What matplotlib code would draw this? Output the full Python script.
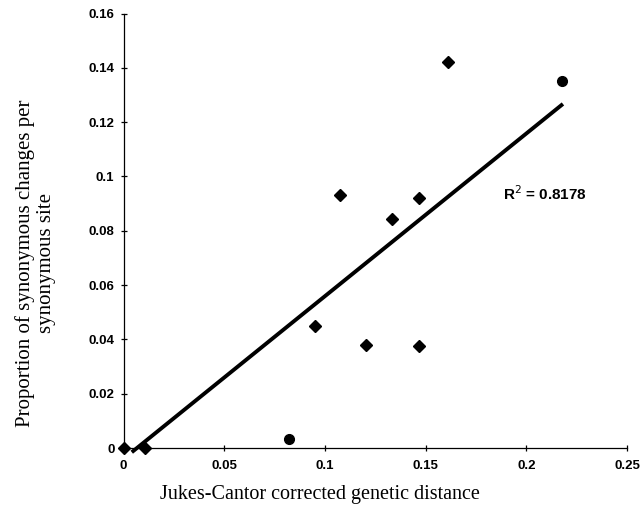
import numpy as np
from matplotlib import pyplot as plt

# points
diamond_x = [0.0, 0.0107, 0.0951, 0.1075, 0.1204, 0.1333, 0.1467, 0.1467, 0.1611]
diamond_y = [0.0, 0.0, 0.0449, 0.0932, 0.0379, 0.0843, 0.0920, 0.0375, 0.1421]
circle_x = [0.0822, 0.2177]
circle_y = [0.0033, 0.1351]

# trend line as drawn
fit_slope = 0.599
fit_intercept = -0.0040
fit_range = [0.0041, 0.2182]
r2_text = "R$^2$ = 0.8178"

x_ticks = [0, 0.05, 0.1, 0.15, 0.2, 0.25]
x_labels = ["0", "0.05", "0.1", "0.15", "0.2", "0.25"]
y_ticks = [0, 0.02, 0.04, 0.06, 0.08, 0.1, 0.12, 0.14, 0.16]
y_labels = ["0", "0.02", "0.04", "0.06", "0.08", "0.1", "0.12", "0.14", "0.16"]

plt.rcParams['font.family'] = ['Liberation Sans', 'DejaVu Sans']

fig = plt.figure(figsize=(6.42, 5.08), dpi=100)
ax = fig.add_axes([0.1924, 0.1181, 0.7842, 0.8553])

fx = np.array(fit_range)
ax.plot(fx, fit_slope * fx + fit_intercept, color="black", lw=2.8,
        solid_capstyle="butt", clip_on=False, zorder=2)

ax.plot(diamond_x, diamond_y, "D", color="black", markersize=6.5,
        clip_on=False, zorder=3)
ax.plot(circle_x, circle_y, "o", color="black", markersize=7,
        clip_on=False, zorder=3)

ax.text(0.1884, 0.0935, r2_text, fontsize=11, fontweight="bold",
        va="center", ha="left")

ax.set_xlim(0, 0.25)
ax.set_ylim(0, 0.16)
ax.set_xticks(x_ticks)
ax.set_xticklabels(x_labels)
ax.set_yticks(y_ticks)
ax.set_yticklabels(y_labels)

for side in ["top", "right"]:
    ax.spines[side].set_visible(False)
for side in ["left", "bottom"]:
    ax.spines[side].set_linewidth(0.9)

ax.tick_params(axis="both", direction="inout", length=5, width=0.9,
               labelsize=9.5)
ax.tick_params(axis="x", pad=6)
ax.tick_params(axis="y", pad=4)
for lab in ax.get_xticklabels() + ax.get_yticklabels():
    lab.set_fontweight("bold")

ax.set_xlabel("Jukes-Cantor corrected genetic distance",
              family="Liberation Serif", fontsize=14.5)
ax.xaxis.set_label_coords(0.39, -0.085)
ax.set_ylabel("Proportion of synonymous changes per\nsynonymous site",
              family="Liberation Serif", fontsize=15, linespacing=1.1)
ax.yaxis.set_label_coords(-0.135, 0.425)

fig.savefig("out.png", dpi=100)
